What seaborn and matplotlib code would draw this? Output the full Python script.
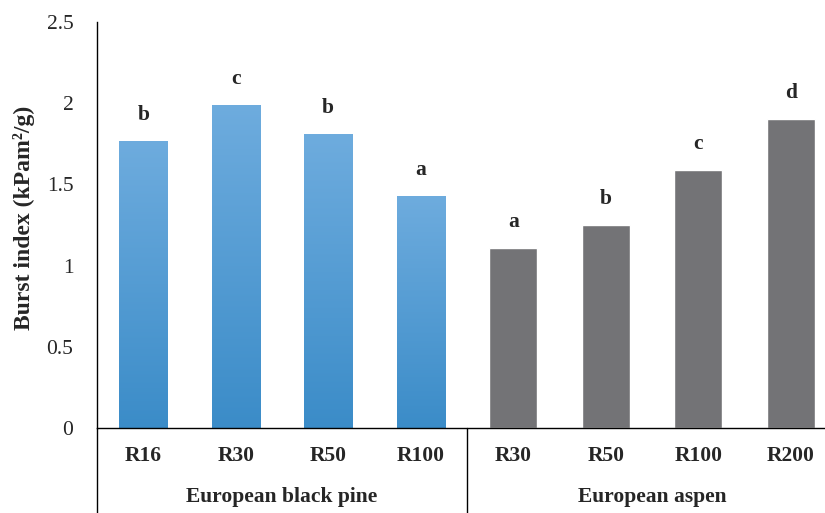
"""
plot.py
-------
Burst index of handsheets, European black pine vs European aspen.
"""

import numpy as np
import pandas as pd
import matplotlib
matplotlib.use("Agg")
import matplotlib.pyplot as plt
import seaborn as sns
from matplotlib.colors import LinearSegmentedColormap


# ---------------------------------------------------------------------------
# Data
# ---------------------------------------------------------------------------

species = ["European black pine"] * 4 + ["European aspen"] * 4
refining = ["R16", "R30", "R50", "R100", "R30", "R50", "R100", "R200"]
burst_index = [1.77, 1.99, 1.81, 1.43, 1.11, 1.25, 1.59, 1.90]
letters = ["b", "c", "b", "a", "a", "b", "c", "d"]
group_names = ["European black pine", "European aspen"]

df = pd.DataFrame({
    "slot": [f"{s}|{r}" for s, r in zip(species, refining)],
    "species": species,
    "refining": refining,
    "burst": burst_index,
})

# ---------------------------------------------------------------------------
# Plot
# ---------------------------------------------------------------------------

sns.set_style("white")
plt.rcParams["font.family"] = ["Liberation Serif", "DejaVu Serif"]

fig = plt.figure(figsize=(8.25, 5.13), dpi=100)
ax = fig.add_axes([97 / 825, 1 - 428 / 513, 740 / 825, 406 / 513])

palette = {"European black pine": "#5a9fd6", "European aspen": "#727376"}
sns.barplot(data=df, x="slot", y="burst", hue="species", palette=palette,
            dodge=False, width=0.52, legend=False, ax=ax)

# blue gradient on the pine bars (light top, darker bottom)
blue_cmap = LinearSegmentedColormap.from_list("pine", ["#3b8cc8", "#6eacde"])
grad = np.linspace(0, 1, 256).reshape(-1, 1)
for bar, sp in zip(ax.patches, df["species"]):
    if sp != "European black pine":
        continue
    x0, w, h = bar.get_x(), bar.get_width(), bar.get_height()
    img = ax.imshow(grad, cmap=blue_cmap, origin="lower", aspect="auto",
                    extent=[x0, x0 + w, 0, h], zorder=bar.get_zorder() + 0.1)
    img.set_clip_path(bar)

ax.set_xlim(-0.5, 7.5)
ax.set_ylim(0, 2.5)
ax.set_yticks([0, 0.5, 1, 1.5, 2, 2.5])
ax.set_yticklabels(["0", "0.5", "1", "1.5", "2", "2.5"], fontsize=15.5)
ax.tick_params(axis="y", length=0, pad=17)
ax.set_xticks(range(8))
ax.set_xticklabels(refining, fontsize=15.5, fontweight="bold")
ax.tick_params(axis="x", length=0, pad=13)
ax.set_xlabel("")
ax.set_ylabel("Burst index (kPam²/g)", fontsize=17, fontweight="bold")
ax.yaxis.set_label_coords(-0.084, 0.517)

for side in ["top", "right"]:
    ax.spines[side].set_visible(False)
for side in ["left", "bottom"]:
    ax.spines[side].set_color("black")
    ax.spines[side].set_linewidth(1.0)

# significance letters
for i, (v, t) in enumerate(zip(burst_index, letters)):
    ax.text(i, v + 0.16, t, ha="center", va="center", fontsize=15.5,
            fontweight="bold")

# group separators and group labels under the axis
trans = ax.get_xaxis_transform()
for xs in [-0.5, 3.5]:
    ax.plot([xs, xs], [0, -0.25], color="black", lw=1.0, transform=trans,
            clip_on=False)
for k, name in enumerate(group_names):
    ax.text(1.5 + 4 * k, -0.17, name, transform=trans, ha="center",
            va="center", fontsize=15.5, fontweight="bold")

fig.savefig("out.png", dpi=100)
